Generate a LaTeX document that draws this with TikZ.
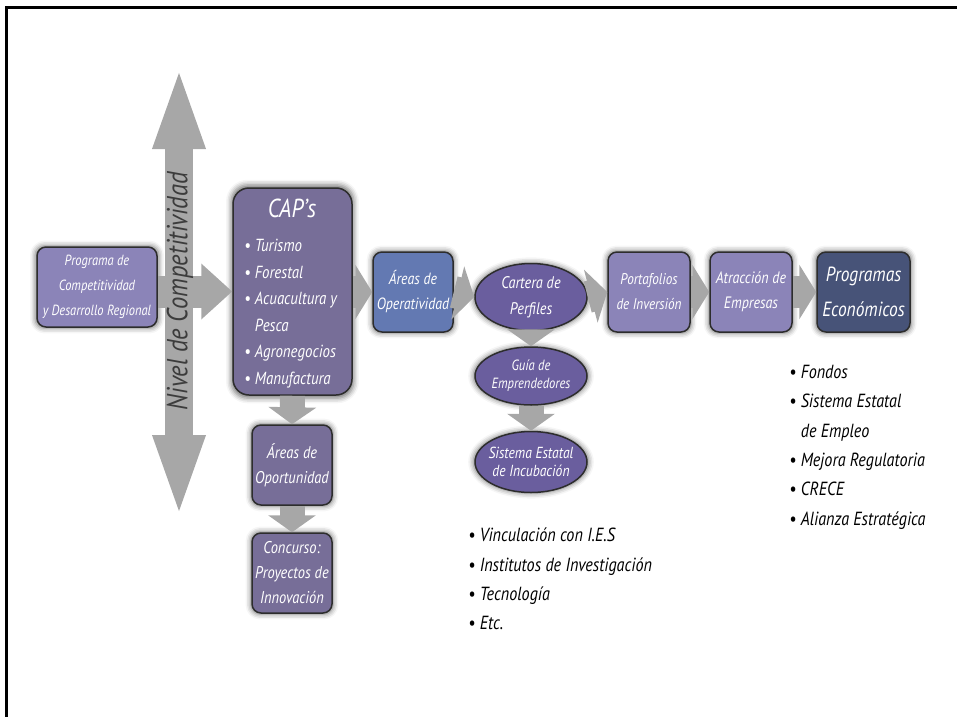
\documentclass[tikz,border=0pt]{standalone}
\usepackage{fontspec}
\setmainfont{PT Sans}[FakeStretch=0.85]
\usetikzlibrary{arrows.meta,shapes.geometric,shadows.blur}

\definecolor{flowgray}{RGB}{167,167,167}
\definecolor{lavender}{RGB}{139,132,184}
\definecolor{mauve}{RGB}{119,110,152}
\definecolor{opblue}{RGB}{99,121,178}
\definecolor{grape}{RGB}{106,94,158}
\definecolor{deepnavy}{RGB}{71,83,120}
\definecolor{edgegray}{RGB}{45,45,45}
\definecolor{labelgray}{RGB}{60,60,60}

\begin{document}
\begin{tikzpicture}[x=1pt, y=-1pt, every node/.style={inner sep=0pt, align=center, text=white, font=\itshape\fontsize{17}{25}\selectfont},
    glow/.style={blur shadow={shadow xshift=0pt, shadow yshift=0pt, shadow blur radius=5pt, shadow scale=1.03, shadow opacity=55}},
    box/.style={glow, draw=edgegray, line width=1.5pt, rounded corners=9pt, minimum width=80pt, minimum height=80pt},
    oval/.style={glow, ellipse, draw=edgegray, line width=1.5pt, fill=grape, inner xsep=-12pt, minimum width=112pt},
    flow/.style={flowgray, line width=32pt, -{Triangle[width=54pt, length=#1]}},
    flow/.default=17pt,
    drop/.style={flowgray, line width=25pt, -{Triangle[width=47pt, length=17pt]}},
    bullets/.style={text=black, align=left, font=\itshape\fontsize{19}{29.3}\selectfont}]
    \useasboundingbox (0,0) rectangle (957,717);
    \draw[line width=3pt] (957,8) -- (6,8) -- (6,717);

    % main chain
    \node[box, fill=lavender, minimum width=120pt, font=\itshape\fontsize{14.7}{25}\selectfont] (prog) at (97,287) {Programa de\\Competitividad\\y Desarrollo Regional};
    \node[box, fill=mauve, minimum width=119pt, minimum height=207pt, rounded corners=16pt] (caps) at (292.5,291.5) {};
    \node[box, fill=mauve] (oport) at (292,465) {Áreas de\\Oportunidad};
    \node[box, fill=mauve, font=\itshape\fontsize{17}{25}\selectfont] (concurso) at (292,573) {Concurso:\\Proyectos de\\Innovación};
    \node[box, fill=opblue, font=\itshape\fontsize{16.3}{25}\selectfont] (operat) at (413,292) {Áreas de\\Operatividad};
    \node[oval, minimum height=67pt, font=\itshape\fontsize{16.8}{26}\selectfont] (cartera) at (531,297) {Cartera de\\Perfiles};
    \node[oval, minimum height=58pt, font=\itshape\fontsize{14.8}{18}\selectfont] (guia) at (531,376) {Guía de\\Emprendedores};
    \node[oval, minimum height=61pt, font=\itshape\fontsize{16}{18}\selectfont] (incub) at (531,462) {Sistema Estatal\\de Incubación};
    \node[box, fill=lavender, minimum width=82pt, font=\itshape\fontsize{15.5}{25}\selectfont] (portaf) at (649,292) {Portafolios\\de Inversión};
    \node[box, fill=lavender, minimum width=82pt, font=\itshape\fontsize{16.5}{25}\selectfont] (atracc) at (751,292) {Atracción de\\Empresas};
    \node[box, fill=deepnavy, minimum width=93pt, font=\itshape\fontsize{20.5}{35}\selectfont] (progeco) at (863.5,292) {Programas\\Económicos};

    % contents of CAP's
    \node[font=\itshape\fontsize{26}{28}\selectfont] (capstitle) at (292,208) {CAP's};
    \node[anchor=north west, align=left, font=\itshape\fontsize{17.5}{26.6}\selectfont] (capslist) at (244,239)
        {\textbullet\ Turismo\\\textbullet\ Forestal\\\textbullet\ Acuacultura y\\\phantom{\textbullet\ }Pesca\\\textbullet\ Agronegocios\\\textbullet\ Manufactura};

    % arrows
    \draw[flow=31pt] (prog.east |- caps.west) -- (caps.west);
    \draw[flow] (caps.east |- operat.west) -- (operat.west);
    \draw[flow] (operat.east) -- (cartera.west);
    \draw[flow] (cartera.east) -- (portaf.west);
    \draw[flow] (portaf.east) -- (atracc.west);
    \draw[flow] (atracc.east) -- (progeco.west);
    \draw[drop] (caps.south) -- (oport.north);
    \draw[drop] (oport.south) -- (concurso.north);
    \draw[drop] (cartera.south) -- (guia.north);
    \draw[drop] (guia.south) -- (incub.north);

    % competitiveness axis
    \coordinate (axistop) at (179,64);
    \coordinate (axisbottom) at (179,520);
    \draw[flowgray, line width=28pt, {Triangle[width=46pt, length=85pt]}-{Triangle[width=46pt, length=85pt]}] (axistop) -- (axisbottom);
    \node[rotate=90, text=labelgray, font=\itshape\fontsize{29}{30}\selectfont] (nivel) at (180,291) {Nivel de Competitividad};

    % lists
    \node[bullets, anchor=north west] (apoyos) at (468,528)
        {\textbullet\ Vinculación con I.E.S\\\textbullet\ Institutos de Investigación\\\textbullet\ Tecnología\\\textbullet\ Etc.};
    \node[bullets, anchor=north west] (programas) at (789,365)
        {\textbullet\ Fondos\\\textbullet\ Sistema Estatal\\\phantom{\textbullet\ }de Empleo\\\textbullet\ Mejora Regulatoria\\\textbullet\ CRECE\\\textbullet\ Alianza Estratégica};
\end{tikzpicture}
\end{document}
